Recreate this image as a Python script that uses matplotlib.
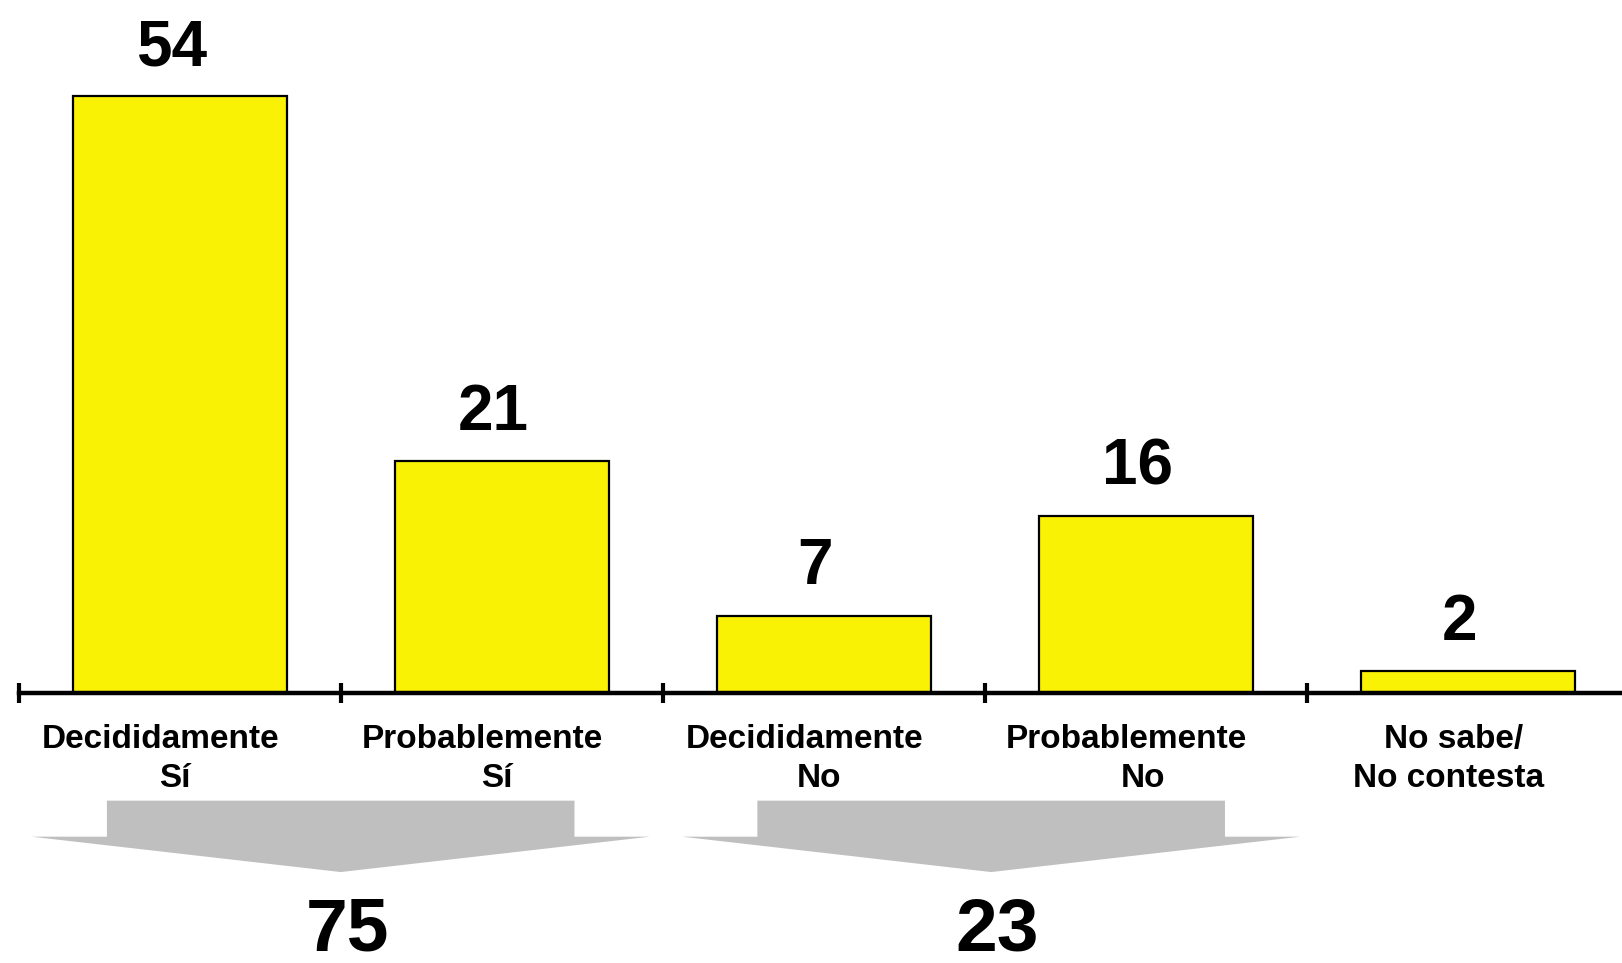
import numpy as np
import matplotlib.pyplot as plt
from matplotlib.patches import Polygon

# datos del gráfico
linea1 = ['Decididamente', 'Probablemente', 'Decididamente', 'Probablemente', 'No sabe/']
linea2 = ['Sí', 'Sí', 'No', 'No', 'No contesta']
valores = [54, 21, 7, 16, 2]
grupos = [(0, 1), (2, 3)]
totales = [75, 23]

amarillo = '#FAF205'
gris = '#BFBFBF'
fuente = 'Liberation Sans'

fig = plt.figure(figsize=(16.22, 9.63), dpi=100)
ax = fig.add_axes([0, 0, 1, 1])
x = np.arange(len(valores))

ax.bar(x, valores, width=0.665, color=amarillo, edgecolor='black', linewidth=1.6, zorder=2)

# etiquetas de valor sobre las barras
for xi, v in zip(x, valores):
    ax.annotate(str(v), xy=(xi, v), xytext=(-6, 22.5), textcoords='offset points',
                ha='center', va='baseline', fontsize=46, fontweight='bold', family=fuente)

# eje con marcas entre categorías
ax.set_xlim(-0.558, 4.479)
ax.set_ylim(-24.43, 62.71)
for s in ['top', 'right', 'left']:
    ax.spines[s].set_visible(False)
ax.spines['bottom'].set_position(('data', 0))
ax.spines['bottom'].set_linewidth(3.2)
ax.spines['bottom'].set_bounds(-0.5, 4.6)
ax.spines['bottom'].set_zorder(3)
ax.set_xticks(np.arange(-0.5, 4.0, 1.0))
ax.tick_params(axis='x', direction='inout', length=15, width=3, labelbottom=False)
ax.set_yticks([])

# etiquetas de categoría (dos líneas, algo desplazadas a la izquierda)
desp1 = [-0.06, -0.06, -0.06, -0.06, -0.045]
desp2 = [-0.015, -0.015, -0.015, -0.01, -0.06]
for xi, l1, l2, d1, d2 in zip(x, linea1, linea2, desp1, desp2):
    ax.text(xi + d1, -5.0, l1, ha='center', va='baseline', fontsize=24,
            fontweight='bold', family=fuente)
    ax.text(xi + d2, -8.5, l2, ha='center', va='baseline', fontsize=24,
            fontweight='bold', family=fuente)

# flechas de agrupación y totales
for k, ((a, b), tot) in enumerate(zip(grupos, totales)):
    c = (a + b) / 2 + 0.02 * k
    pts = [(c - 0.726, -9.74), (c + 0.726, -9.74), (c + 0.726, -13.0), (c + 0.96, -13.0),
           (c, -16.2), (c - 0.96, -13.0), (c - 0.726, -13.0)]
    ax.add_patch(Polygon(pts, closed=True, facecolor=gris, edgecolor='none', zorder=1))
    ax.text(c + 0.02, -23.3, str(tot), ha='center', va='baseline', fontsize=54,
            fontweight='bold', family=fuente)

fig.savefig('out.png', dpi=100)
